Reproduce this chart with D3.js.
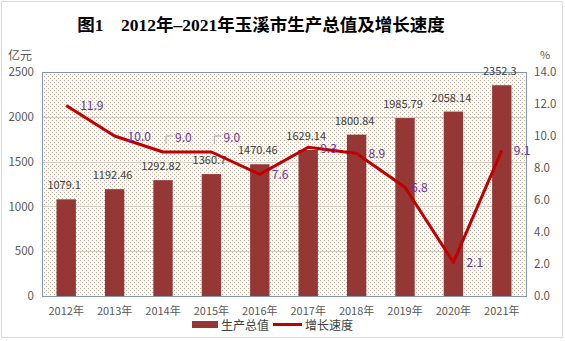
<!DOCTYPE html>
<html>
<head>
<meta charset="utf-8">
<script src="https://cdn.jsdelivr.net/npm/d3@7/dist/d3.min.js"></script>
<style>
  html, body { margin: 0; padding: 0; background: #fff; }
  svg { display: block; }
</style>
</head>
<body>
<svg id="chart" width="565" height="341"></svg>
<script>
// Yuxi GDP (100 million yuan) and growth rate (%), 2012–2021
const years = ["2012年", "2013年", "2014年", "2015年", "2016年", "2017年", "2018年", "2019年", "2020年", "2021年"];
const gdp = [1079.1, 1192.46, 1292.82, 1360.7, 1470.46, 1629.14, 1800.84, 1985.79, 2058.14, 2352.3];
const growth = [11.9, 10.0, 9.0, 9.0, 7.6, 9.3, 8.9, 6.8, 2.1, 9.1];
const leftTicks = [0, 500, 1000, 1500, 2000, 2500];
const rightTicks = [0, 2, 4, 6, 8, 10, 12, 14];
const titleText = "图1　2012年–2021年玉溪市生产总值及增长速度";
const legendLabels = ["生产总值", "增长速度"];

const svg = d3.select("#chart");
const W = 565, H = 341;
const plot = { left: 42, right: 526, top: 72, bottom: 296 };
const labelFont = "'Noto Sans CJK SC', 'Liberation Sans', sans-serif";

// outer frame
svg.append("rect")
  .attr("x", 1.5).attr("y", 1.5).attr("width", W - 4).attr("height", H - 5)
  .attr("fill", "#fff").attr("stroke", "#d9d9d9").attr("stroke-width", 1);

// dotted plot background
const defs = svg.append("defs");
const pat = defs.append("pattern")
  .attr("id", "dots").attr("patternUnits", "userSpaceOnUse")
  .attr("width", 4).attr("height", 4);
pat.append("rect").attr("width", 4).attr("height", 4).attr("fill", "#fff8ee");
pat.append("rect").attr("x", 0).attr("y", 0).attr("width", 1).attr("height", 1).attr("fill", "#bdb5ab");
pat.append("rect").attr("x", 2).attr("y", 2).attr("width", 1).attr("height", 1).attr("fill", "#bdb5ab");

const x = d3.scaleBand().domain(years).range([plot.left, plot.right]).paddingInner(0.6).paddingOuter(0.3);
const xc = d => x(d) + x.bandwidth() / 2;
const yL = d3.scaleLinear().domain([0, 2500]).range([plot.bottom, plot.top]);
const yR = d3.scaleLinear().domain([0, 14]).range([plot.bottom, plot.top]);

svg.append("rect")
  .attr("x", plot.left).attr("y", plot.top)
  .attr("width", plot.right - plot.left).attr("height", plot.bottom - plot.top)
  .attr("fill", "url(#dots)");

// horizontal gridlines
svg.append("g").selectAll("line")
  .data(leftTicks.slice(1, -1))
  .join("line")
  .attr("x1", plot.left).attr("x2", plot.right)
  .attr("y1", d => Math.round(yL(d)) + 0.5).attr("y2", d => Math.round(yL(d)) + 0.5)
  .attr("stroke", "#d6d0c8").attr("stroke-width", 1);

// plot border
svg.append("rect")
  .attr("x", plot.left + 0.5).attr("y", plot.top + 0.5)
  .attr("width", plot.right - plot.left).attr("height", plot.bottom - plot.top)
  .attr("fill", "none").attr("stroke", "#8497b0").attr("stroke-width", 1);

// bars
svg.append("g").selectAll("rect")
  .data(gdp)
  .join("rect")
  .attr("x", (d, i) => x(years[i]))
  .attr("y", d => yL(d))
  .attr("width", x.bandwidth())
  .attr("height", d => plot.bottom - yL(d))
  .attr("fill", "#953735");

// left axis
const axL = svg.append("g")
  .attr("transform", `translate(${plot.left},0)`)
  .call(d3.axisLeft(yL).tickValues(leftTicks).tickSize(0).tickPadding(8).tickFormat(d3.format("d")));
axL.select(".domain").remove();
axL.selectAll("text").attr("font-family", labelFont).attr("font-size", 11.5).attr("fill", "#595959");

// right axis
const axR = svg.append("g")
  .attr("transform", `translate(${plot.right},0)`)
  .call(d3.axisRight(yR).tickValues(rightTicks).tickSize(0).tickPadding(8).tickFormat(d3.format(".1f")));
axR.select(".domain").remove();
axR.selectAll("text").attr("font-family", labelFont).attr("font-size", 11.5).attr("fill", "#595959");

// bottom axis
const axB = svg.append("g")
  .attr("transform", `translate(0,${plot.bottom})`)
  .call(d3.axisBottom(x).tickSize(0).tickPadding(11));
axB.select(".domain").remove();
axB.selectAll("text").attr("font-family", labelFont).attr("font-size", 11).attr("fill", "#595959");

// unit labels
svg.append("text").attr("x", 8).attr("y", 60).text("亿元")
  .attr("font-family", labelFont).attr("font-size", 12).attr("fill", "#595959");
svg.append("text").attr("x", 540).attr("y", 59).text("%")
  .attr("font-family", labelFont).attr("font-size", 11).attr("fill", "#595959");

// bar value labels
svg.append("g").selectAll("text")
  .data(gdp)
  .join("text")
  .attr("x", (d, i) => xc(years[i]) - 2)
  .attr("y", d => yL(d) - 10)
  .attr("text-anchor", "middle")
  .attr("font-family", labelFont).attr("font-size", 11).attr("fill", "#404040")
  .text(d => d);

// growth line
const line = d3.line()
  .x((d, i) => xc(years[i]))
  .y(d => yR(d));
svg.append("path")
  .datum(growth)
  .attr("d", line)
  .attr("fill", "none").attr("stroke", "#c00000").attr("stroke-width", 3)
  .attr("stroke-linejoin", "round");

// growth value labels (offsets relative to each point)
const gOff = [[14, 0], [13, 0], [12, -15], [12, -15], [12, 0], [12, 1], [12, 0], [6, 0], [13, 0], [12, 0]];
const gl = svg.append("g");
growth.forEach((d, i) => {
  const px = xc(years[i]), py = yR(d);
  const [dx, dy] = gOff[i];
  gl.append("text")
    .attr("x", px + dx).attr("y", py + dy + 4.5)
    .attr("font-family", labelFont).attr("font-size", 12).attr("fill", "#7030a0")
    .text(d3.format(".1f")(d));
  if (i === 2 || i === 3) {
    // leader line for labels lifted above the line
    gl.append("path")
      .attr("d", `M${px + dx - 2},${py + dy - 1} h-7 v8`)
      .attr("fill", "none").attr("stroke", "#a6a6a6").attr("stroke-width", 1);
  }
});

// title
svg.append("text")
  .attr("x", 261).attr("y", 31)
  .attr("text-anchor", "middle")
  .attr("font-family", "'Liberation Serif', 'Noto Sans CJK SC', serif")
  .attr("font-weight", "bold").attr("font-size", 17.5).attr("fill", "#000")
  .text(titleText);

// legend
const lg = svg.append("g").attr("font-family", labelFont).attr("font-size", 12).attr("fill", "#404040");
lg.append("rect").attr("x", 192).attr("y", 321).attr("width", 26).attr("height", 7).attr("fill", "#953735");
lg.append("text").attr("x", 221).attr("y", 330).text(legendLabels[0]);
lg.append("line").attr("x1", 273).attr("x2", 302).attr("y1", 324.5).attr("y2", 324.5)
  .attr("stroke", "#c00000").attr("stroke-width", 3);
lg.append("text").attr("x", 305).attr("y", 330).text(legendLabels[1]);
</script>
</body>
</html>
